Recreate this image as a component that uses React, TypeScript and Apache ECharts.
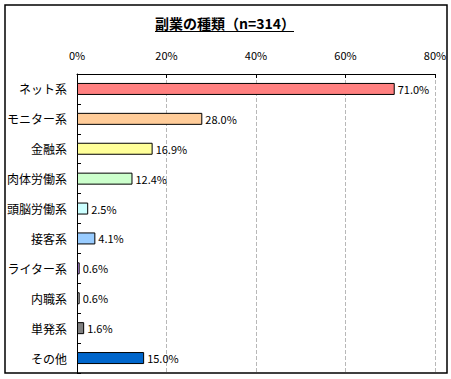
import React, { useEffect, useRef } from "react";
import * as echarts from "echarts";

const categories = ["ネット系", "モニター系", "金融系", "肉体労働系", "頭脳労働系", "接客系", "ライター系", "内職系", "単発系", "その他"];
const values = [71.0, 28.0, 16.9, 12.4, 2.5, 4.1, 0.6, 0.6, 1.6, 15.0];
const colors = ["#FF8080", "#FFCC99", "#FFFF99", "#CCFFCC", "#CCFFFF", "#99CCFF", "#CC99FF", "#C0C0C0", "#808080", "#0066CC"];
const titleText = "副業の種類（n=314）";

export default function App() {
  const ref = useRef<HTMLDivElement>(null);
  useEffect(() => {
    if (!ref.current) return;
    const chart = echarts.init(ref.current, null, { renderer: "svg" });
    const font = "'Noto Sans CJK JP', sans-serif";
    chart.setOption({
      animation: false,
      textStyle: { fontFamily: font },
      grid: { left: 77, top: 74, right: 16, bottom: 6, containLabel: false },
      xAxis: {
        type: "value",
        position: "top",
        min: 0,
        max: 80,
        interval: 20,
        axisLine: { show: true, lineStyle: { color: "#000", width: 1 } },
        axisTick: { show: true, inside: true, length: 4, lineStyle: { color: "#000" } },
        axisLabel: { formatter: "{value}%", color: "#000", fontSize: 11, margin: 14 },
        splitLine: { show: true, lineStyle: { color: "#b8b8b8", type: "dashed" } },
      },
      yAxis: {
        type: "category",
        data: categories,
        inverse: true,
        axisLine: { show: true, lineStyle: { color: "#000", width: 1 } },
        axisTick: { show: true, inside: true, length: 4, lineStyle: { color: "#000" } },
        axisLabel: { color: "#000", fontSize: 12, margin: 10 },
      },
      series: [
        {
          type: "bar",
          barWidth: 12,
          data: values.map((v, i) => ({
            value: v,
            itemStyle: { color: colors[i], borderColor: "#000", borderWidth: 1 },
          })),
          label: {
            show: true,
            position: "right",
            distance: 3,
            color: "#000",
            fontSize: 11,
            formatter: (p: any) => p.value.toFixed(1) + "%",
          },
        },
      ],
      graphic: [
        {
          type: "rect",
          shape: { x: 5, y: 5, width: 442, height: 368 },
          style: { fill: "none", stroke: "#000", lineWidth: 1.5 },
          silent: true,
        },
        {
          type: "text",
          x: 225,
          y: 23,
          style: {
            text: titleText,
            fontSize: 14,
            fontWeight: "bold",
            fontFamily: font,
            fill: "#000",
            align: "center",
            verticalAlign: "middle",
          },
          silent: true,
        },
        {
          type: "line",
          shape: { x1: 155, y1: 31.5, x2: 294, y2: 31.5 },
          style: { stroke: "#000", lineWidth: 1 },
          silent: true,
        },
      ],
    });
    return () => chart.dispose();
  }, []);
  return (
    <div
      ref={ref}
      style={{ position: "fixed", left: 0, top: 0, width: 451, height: 379, background: "#fff" }}
    />
  );
}
